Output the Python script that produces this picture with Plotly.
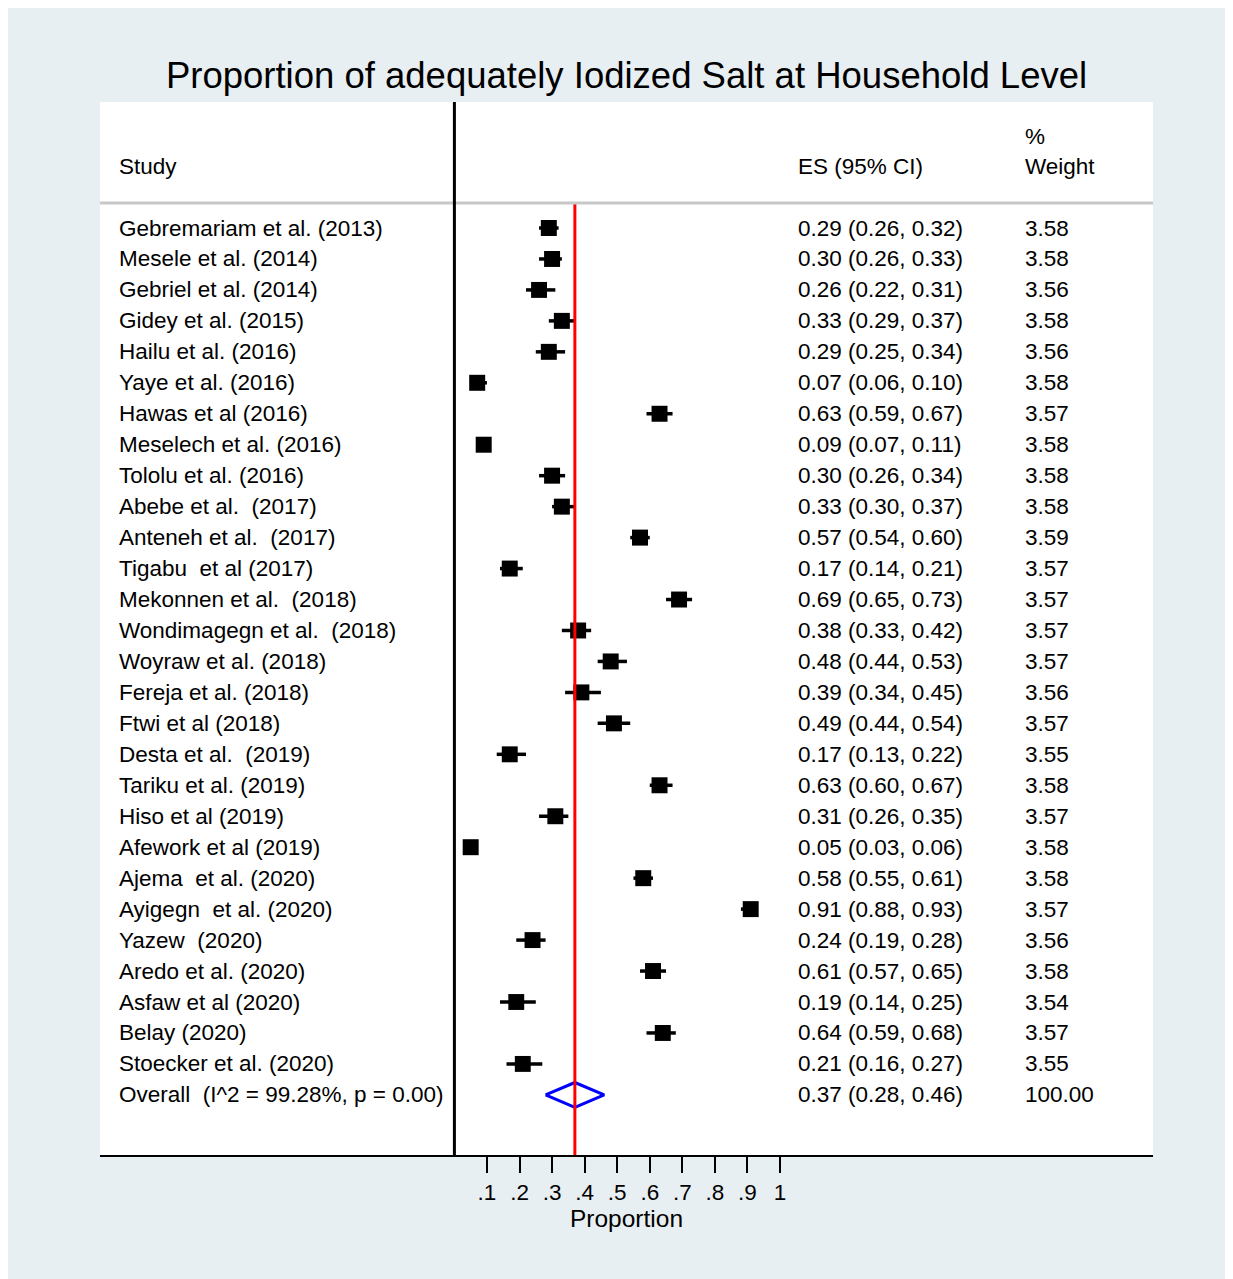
import plotly.graph_objects as go

# ---------------- data ----------------
studies = [
    "Gebremariam et al. (2013)", "Mesele et al. (2014)", "Gebriel et al. (2014)",
    "Gidey et al. (2015)", "Hailu et al. (2016)", "Yaye et al. (2016)",
    "Hawas et al (2016)", "Meselech et al. (2016)", "Tololu et al. (2016)",
    "Abebe et al.  (2017)", "Anteneh et al.  (2017)", "Tigabu  et al (2017)",
    "Mekonnen et al.  (2018)", "Wondimagegn et al.  (2018)", "Woyraw et al. (2018)",
    "Fereja et al. (2018)", "Ftwi et al (2018)", "Desta et al.  (2019)",
    "Tariku et al. (2019)", "Hiso et al (2019)", "Afework et al (2019)",
    "Ajema  et al. (2020)", "Ayigegn  et al. (2020)", "Yazew  (2020)",
    "Aredo et al. (2020)", "Asfaw et al (2020)", "Belay (2020)", "Stoecker et al. (2020)",
]
es = [0.29, 0.30, 0.26, 0.33, 0.29, 0.07, 0.63, 0.09, 0.30, 0.33, 0.57, 0.17, 0.69, 0.38,
      0.48, 0.39, 0.49, 0.17, 0.63, 0.31, 0.05, 0.58, 0.91, 0.24, 0.61, 0.19, 0.64, 0.21]
lo = [0.26, 0.26, 0.22, 0.29, 0.25, 0.06, 0.59, 0.07, 0.26, 0.30, 0.54, 0.14, 0.65, 0.33,
      0.44, 0.34, 0.44, 0.13, 0.60, 0.26, 0.03, 0.55, 0.88, 0.19, 0.57, 0.14, 0.59, 0.16]
hi = [0.32, 0.33, 0.31, 0.37, 0.34, 0.10, 0.67, 0.11, 0.34, 0.37, 0.60, 0.21, 0.73, 0.42,
      0.53, 0.45, 0.54, 0.22, 0.67, 0.35, 0.06, 0.61, 0.93, 0.28, 0.65, 0.25, 0.68, 0.27]
weights = [3.58, 3.58, 3.56, 3.58, 3.56, 3.58, 3.57, 3.58, 3.58, 3.58, 3.59, 3.57, 3.57, 3.57,
           3.57, 3.56, 3.57, 3.55, 3.58, 3.57, 3.58, 3.58, 3.57, 3.56, 3.58, 3.54, 3.57, 3.55]
overall_label = "Overall  (I^2 = 99.28%, p = 0.00)"
overall_es, overall_lo, overall_hi, overall_w = 0.37, 0.28, 0.46, 100.00

tick_vals = [0.1, 0.2, 0.3, 0.4, 0.5, 0.6, 0.7, 0.8, 0.9, 1.0]
tick_text = [".1", ".2", ".3", ".4", ".5", ".6", ".7", ".8", ".9", "1"]

title = "Proportion of adequately Iodized Salt at Household Level"
x_title = "Proportion"

# ---------------- layout geometry (page pixels; page has 8px body margin) ----------------
OX, OY = 8, 8
W, H = 1224, 1271
PL, PR, PT, PB = 100 - OX, 1153 - OX, 102 - OY, 1155 - OY   # plot area in figure px
X0PX, XSCALE = 454.4 - OX, 325.6                             # pixel of x=0, px per unit
ROW0PX, ROWPX = 228 - OY, 30.96                              # first row pixel, px per row

def px2x(px):
    return (px - X0PX) / XSCALE

def py2y(py):  # py in page pixels
    return (py - OY - ROW0PX) / ROWPX

def pxpaper(px):  # px in page pixels
    return (px - OX - PL) / (PR - PL)

FONT = "Liberation Sans, Arial, Helvetica, sans-serif"
BG = "#e8eff2"
FS = 22.5

n = len(studies)
rows = list(range(n))
overall_row = n

fig = go.Figure()

# study estimates with CI
fig.add_trace(go.Scatter(
    x=es, y=rows, mode="markers",
    marker=dict(symbol="square", color="black", opacity=1,
                size=[16 * (w / max(weights)) ** 0.5 for w in weights],
                line=dict(width=0)),
    error_x=dict(type="data", symmetric=False,
                 array=[h - e for h, e in zip(hi, es)],
                 arrayminus=[e - l for e, l in zip(es, lo)],
                 color="black", thickness=3.5, width=0),
    hoverinfo="skip", showlegend=False,
))

# overall diamond
dh = 0.4
fig.add_trace(go.Scatter(
    x=[overall_lo, overall_es, overall_hi, overall_es, overall_lo],
    y=[overall_row, overall_row - dh, overall_row, overall_row + dh, overall_row],
    mode="lines", line=dict(color="#0000ff", width=3),
    hoverinfo="skip", showlegend=False,
))

shapes = []
# red line at overall estimate
shapes.append(dict(type="line", xref="x", yref="y", x0=overall_es, x1=overall_es,
                   y0=py2y(204), y1=py2y(1155), line=dict(color="#ff0000", width=3)))
# gray header separator
shapes.append(dict(type="line", xref="paper", yref="y", x0=0, x1=1,
                   y0=py2y(203), y1=py2y(203), line=dict(color="#c8c8c8", width=3)))
# black vertical line at x=0
shapes.append(dict(type="line", xref="x", yref="paper", x0=0, x1=0, y0=0, y1=1,
                   line=dict(color="black", width=3)))

annotations = []
def txt(xpx, y, s):
    annotations.append(dict(xref="paper", yref="y", x=pxpaper(xpx - 2), y=y, text=s,
                            showarrow=False, xanchor="left", yanchor="middle",
                            font=dict(family=FONT, size=FS, color="black")))

def fix(s):
    return s.replace("  ", " \u00a0")

# headers
txt(119, py2y(166), "Study")
txt(798, py2y(166), "ES (95% CI)")
txt(1025, py2y(136), "%")
txt(1025, py2y(166), "Weight")

for i in rows:
    txt(119, i, fix(studies[i]))
    txt(798, i, f"{es[i]:.2f} ({lo[i]:.2f}, {hi[i]:.2f})")
    txt(1025, i, f"{weights[i]:.2f}")
txt(119, overall_row, fix(overall_label))
txt(798, overall_row, f"{overall_es:.2f} ({overall_lo:.2f}, {overall_hi:.2f})")
txt(1025, overall_row, f"{overall_w:.2f}")

fig.update_layout(
    width=W, height=H,
    margin=dict(l=PL, r=W - PR, t=PT, b=H - PB, pad=0),
    paper_bgcolor=BG, plot_bgcolor="white",
    font=dict(family=FONT, color="black"),
    title=dict(text=title, x=0.5, xref="paper", xanchor="center",
               y=1 - (75 - OY) / H, yanchor="middle",
               font=dict(family=FONT, size=36.5, color="black")),
    shapes=shapes, annotations=annotations,
    xaxis=dict(range=[px2x(PL), px2x(PR)], showgrid=False, zeroline=False,
               showline=True, linecolor="black", linewidth=2,
               tickvals=tick_vals, ticktext=tick_text,
               ticks="outside", ticklen=16, tickwidth=2, tickcolor="black",
               tickfont=dict(family=FONT, size=22.5, color="black"),
               title=dict(text=x_title, font=dict(family=FONT, size=24.5, color="black"),
                          standoff=0)),
    yaxis=dict(range=[(PB - ROW0PX) / ROWPX, (PT - ROW0PX) / ROWPX],
               visible=False, showgrid=False, zeroline=False),
)

fig.write_html("out.html")
